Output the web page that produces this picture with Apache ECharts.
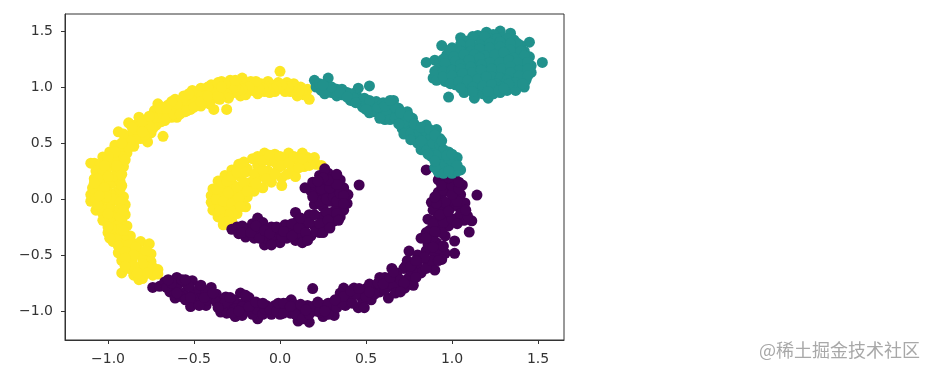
<!DOCTYPE html>
<html>
<head>
<meta charset="utf-8">
<title>scatter</title>
<script src="https://cdn.jsdelivr.net/npm/echarts@6/dist/echarts.min.js"></script>
<style>
html,body{margin:0;padding:0;background:#fff;}
#main{width:935px;height:376px;}
</style>
</head>
<body>
<div id="main"></div>
<script>
// tick labels
const xTicks = [-1.0, -0.5, 0.0, 0.5, 1.0, 1.5];
const yTicks = [-1.0, -0.5, 0.0, 0.5, 1.0, 1.5];

// yellow cluster
const yellowOuter = [
[0.17,0.89],[0.14,0.93],[0.16,0.98],[0.12,1.00],[0.10,0.92],[0.08,1.03],[0.06,0.96],[0.04,1.04],[0.02,0.98],[0.0,1.14],
[-0.01,1.04],[-0.03,0.96],[-0.05,1.02],[-0.07,1.05],[-0.09,0.96],[-0.11,1.03],[-0.13,0.94],[-0.15,1.02],[-0.17,1.05],[-0.19,0.96],
[-0.21,1.01],[-0.23,0.92],[-0.22,1.08],[-0.25,1.03],[-0.27,0.95],[-0.29,1.06],[-0.30,1.00],[-0.31,0.80],[-0.33,0.93],[-0.34,1.05],
[-0.36,0.98],[-0.385,0.80],[-0.38,0.90],[-0.40,1.02],[-0.41,0.85],[-0.43,0.96],[-0.45,0.90],[-0.46,0.99],[-0.48,0.85],[-0.50,0.93],
[-0.52,0.80],[-0.53,0.88],[-0.55,0.78],[-0.56,0.92],[-0.58,0.84],[-0.60,0.73],[-0.61,0.89],[-0.63,0.78],[-0.65,0.84],[-0.67,0.70],
[-0.68,0.56],[-0.69,0.76],[-0.71,0.85],[-0.72,0.66],[-0.73,0.79],[-0.75,0.59],[-0.77,0.51],[-0.77,0.70],[-0.79,0.63],[-0.81,0.54],
[-0.82,0.73],[-0.84,0.66],[-0.85,0.47],[-0.86,0.58],[-0.88,0.68],[-0.90,0.52],[-0.89,0.41],[-0.92,0.44],[-0.94,0.60],[-0.94,0.36],
[-0.96,0.48],[-0.98,0.30],[-0.99,0.42],[-1.03,0.375],[-1.01,0.26],[-1.05,0.22],[-0.95,0.24],[-0.91,0.29],[-1.10,0.32],[-1.08,0.32],
[-1.08,0.18],[-1.03,0.17],[-0.98,0.14],[-0.93,0.16],[-1.10,0.04],[-1.10,-0.02],[-1.06,0.08],[-1.00,0.07],[-0.95,0.06],[-0.91,0.02],
[-0.90,-0.05],[-1.04,-0.02],[-0.98,-0.03],[-1.07,-0.10],[-1.03,-0.13],[-0.96,-0.11],[-0.90,-0.14],[-0.92,-0.20],[-1.01,-0.20],[-0.97,-0.22],
[-0.89,-0.24],[-1.00,-0.30],[-0.95,-0.30],[-0.89,-0.33],[-0.87,-0.33],[-0.97,-0.38],[-0.91,-0.41],[-0.86,-0.39],[-0.81,-0.38],[-0.76,-0.40],
[-0.94,-0.48],[-0.88,-0.47],[-0.82,-0.46],[-0.75,-0.49],[-0.92,-0.55],[-0.86,-0.55],[-0.80,-0.53],[-0.75,-0.56],[-0.92,-0.66],[-0.88,-0.62],
[-0.83,-0.62],[-0.77,-0.61],[-0.71,-0.63],[-0.85,-0.68],[-0.79,-0.67],[-0.74,-0.68],[-0.82,-0.72],
[0.13,0.97],[0.11,0.96],[0.09,0.98],[0.07,1.00],[0.05,1.00],[0.03,0.96],[0.01,1.02],[-0.02,1.00],[-0.04,0.98],[-0.06,0.95],
[-0.08,1.00],[-0.10,0.99],[-0.12,0.98],[-0.14,1.05],[-0.16,0.97],[-0.18,1.00],[-0.20,0.93],[-0.22,0.98],[-0.24,0.97],[-0.26,1.00],
[-0.28,0.99],[-0.31,0.94],[-0.30,0.90],[-0.32,1.03],[-0.35,0.89],[-0.36,1.04],[-0.38,0.95],[-0.40,0.94],[-0.42,1.00],[-0.43,0.88],
[-0.44,0.92],[-0.47,0.92],[-0.46,0.83],[-0.50,0.87],[-0.51,0.97],[-0.54,0.83],[-0.53,0.94],[-0.57,0.88],[-0.57,0.79],[-0.60,0.80],
[-0.60,0.85],[-0.63,0.73],[-0.63,0.87],[-0.66,0.77],[-0.68,0.82],[-0.69,0.69],[-0.71,0.73],[-0.74,0.73],[-0.74,0.63],[-0.76,0.65],
[-0.79,0.57],[-0.80,0.69],[-0.83,0.60],[-0.84,0.53],[-0.87,0.52],[-0.91,0.58],[-0.92,0.38],[-0.88,0.46],[-0.90,0.35],[-0.97,0.36],
[-1.00,0.33],[-1.05,0.30],[-1.07,0.25],[-1.03,0.24],[-0.97,0.20],[-1.00,0.20],[-0.92,0.22],[-1.05,0.14],[-1.09,0.10],[-1.02,0.10],
[-0.93,0.09],[-0.97,0.0],[-1.07,0.0],[-1.01,0.02],[-0.93,-0.03],[-0.93,-0.09],[-1.00,-0.08],[-1.04,-0.07],[-0.98,-0.16],[-1.03,-0.19],
[-0.93,-0.16],[-0.95,-0.24],[-0.93,-0.27],[-0.98,-0.26],[-0.91,-0.35],[-0.95,-0.36],[-0.94,-0.42],[-0.88,-0.41],[-0.84,-0.43],[-0.90,-0.47],
[-0.78,-0.46],[-0.85,-0.50],[-0.90,-0.53],[-0.80,-0.58],[-0.85,-0.60],[-0.90,-0.60],[-0.74,-0.61],[-0.80,-0.71],[-0.83,-0.66],[-0.77,-0.66],
[-0.71,-0.67],
[-0.66,0.72],[-0.62,0.76],[-0.58,0.76],[-0.54,0.79],[-0.50,0.82],[-0.46,0.87],[-0.42,0.92],[-0.36,0.92],[-0.34,1.00],[-0.26,1.06],
[-0.70,0.81],[-0.66,0.81],[-0.76,0.74],[-0.80,0.60],[-0.86,0.64],[-0.92,0.50],[-0.96,0.42],[-1.00,0.38],[-1.02,0.30],[-1.06,0.18],
[-0.95,0.30],[-1.06,-0.05],[-1.05,0.03],[-1.08,0.14],[-0.92,0.12],[-0.91,-0.10],[-1.00,-0.13],[-1.00,-0.25],[-0.91,-0.28],[-0.99,-0.35]
];
const yellowInner = [
[-0.40,0.03],[-0.40,-0.03],[-0.39,0.09],[-0.39,-0.10],[-0.36,0.16],[-0.36,-0.16],[-0.33,-0.23],[-0.35,0.04],[-0.35,-0.06],[-0.33,0.10],
[-0.32,0.21],[-0.32,-0.14],[-0.30,0.0],[-0.30,-0.08],[-0.28,-0.20],[-0.28,0.14],[-0.28,0.26],[-0.27,0.06],[-0.26,-0.03],[-0.25,-0.13],
[-0.24,0.31],[-0.23,0.20],[-0.22,0.09],[-0.21,0.01],[-0.20,-0.07],[-0.19,0.02],[-0.19,0.27],[-0.17,0.15],[-0.16,0.36],[-0.15,0.07],
[-0.13,0.30],[-0.12,0.20],[-0.10,0.10],[-0.09,0.41],[-0.07,0.25],[-0.06,0.34],[-0.05,0.15],[-0.03,0.40],[-0.01,0.28],[0.01,0.19],
[0.01,0.12],[0.03,0.36],[0.05,0.41],[0.07,0.27],[0.09,0.20],[0.10,0.35],[0.13,0.41],[0.14,0.29],[0.17,0.30],[0.20,0.37],
[0.21,0.31],[0.24,0.30],
[-0.37,0.0],[-0.37,0.09],[-0.34,0.15],[-0.33,-0.02],[-0.30,0.06],[-0.31,0.16],[-0.28,-0.04],[-0.27,-0.11],[-0.30,-0.14],[-0.28,0.20],
[-0.25,0.11],[-0.25,0.24],[-0.24,0.01],[-0.23,-0.07],[-0.21,0.15],[-0.21,0.33],[-0.20,0.24],[-0.19,0.07],[-0.15,0.22],[-0.14,0.14],
[-0.13,0.38],[-0.10,0.26],[-0.10,0.34],[-0.08,0.18],[-0.06,0.39],[-0.03,0.22],[-0.03,0.33],[0.0,0.38],[0.01,0.30],[0.04,0.22],
[0.05,0.32],[0.08,0.38],[0.11,0.28],[0.16,0.37],[0.13,0.36],[-0.35,-0.11],[-0.33,-0.18],[-0.31,-0.20]
];

// purple cluster
const purpleInner = [
[-0.28,-0.27],[-0.25,-0.25],[-0.24,-0.31],[-0.20,-0.34],[-0.19,-0.27],[-0.16,-0.22],[-0.15,-0.35],[-0.13,-0.17],[-0.12,-0.28],[-0.10,-0.21],
[-0.09,-0.41],[-0.08,-0.35],[-0.05,-0.25],[-0.04,-0.37],[-0.01,-0.30],[0.0,-0.39],[0.03,-0.23],[0.04,-0.35],[0.06,-0.28],[0.09,-0.37],
[0.09,-0.12],[0.10,-0.20],[0.12,-0.31],[0.13,-0.39],[0.14,-0.24],[0.17,-0.14],[0.18,-0.33],[0.20,-0.05],[0.20,-0.24],[0.23,-0.30],
[0.24,-0.16],[0.25,-0.07],[0.26,-0.25],[0.22,0.03],[0.18,0.07],[0.145,0.10],[0.21,0.12],[0.26,0.05],[0.29,-0.02],[0.30,-0.12],
[0.31,-0.20],[0.33,-0.07],[0.35,-0.16],[0.36,0.0],[0.37,-0.10],[0.39,-0.04],[0.395,0.04],[0.32,0.08],[0.37,0.10],[0.26,0.14],
[0.31,0.17],[0.35,0.17],[0.23,0.21],[0.28,0.23],[0.26,0.27],[0.46,0.125],
[-0.22,-0.24],[-0.22,-0.30],[-0.17,-0.30],[-0.14,-0.24],[-0.12,-0.35],[-0.09,-0.28],[-0.06,-0.31],[-0.05,-0.41],[-0.02,-0.25],[0.01,-0.34],
[0.02,-0.29],[0.07,-0.22],[0.07,-0.33],[0.11,-0.26],[0.15,-0.30],[0.16,-0.37],[0.12,-0.17],[0.17,-0.21],[0.20,-0.14],[0.21,-0.29],
[0.23,-0.22],[0.25,-0.30],[0.27,-0.12],[0.28,-0.19],[0.29,-0.26],[0.23,-0.02],[0.27,0.0],[0.24,0.09],[0.31,0.02],[0.33,-0.02],
[0.35,0.05],[0.33,-0.13],[0.29,0.10],[0.33,0.13],[0.37,0.03],[0.19,0.02],[0.19,0.15],[0.28,0.17],[0.25,0.19],[0.33,0.22],
[0.22,0.16],[0.37,-0.04],[0.34,-0.19]
];
const purpleOuter = [
[-0.74,-0.79],[-0.70,-0.78],[-0.67,-0.74],[-0.64,-0.83],[-0.61,-0.885],[-0.60,-0.70],[-0.60,-0.78],[-0.56,-0.84],[-0.55,-0.75],[-0.52,-0.96],
[-0.51,-0.73],[-0.50,-0.83],[-0.48,-0.90],[-0.45,-0.85],[-0.43,-0.95],[-0.40,-0.79],[-0.40,-0.89],[-0.37,-0.85],[-0.345,-1.01],[-0.34,-0.92],
[-0.315,-0.875],[-0.29,-0.97],[-0.26,-1.05],[-0.25,-0.93],[-0.23,-0.84],[-0.20,-0.91],[-0.19,-1.00],[-0.16,-0.93],[-0.13,-1.07],[-0.12,-0.97],
[-0.08,-0.95],[-0.05,-1.03],[-0.03,-0.95],[0.0,-1.03],[0.03,-0.97],[0.065,-0.90],[0.06,-1.02],[0.105,-1.09],[0.10,-0.97],[0.14,-1.03],
[0.17,-1.10],[0.16,-0.95],[0.19,-0.80],[0.21,-1.00],[0.25,-1.05],[0.25,-0.95],[0.30,-0.97],[0.315,-1.04],[0.34,-0.90],[0.37,-0.795],
[0.38,-0.95],[0.40,-0.87],[0.43,-0.795],[0.455,-0.97],[0.47,-0.87],[0.50,-0.80],[0.53,-0.90],[0.55,-0.78],[0.58,-0.70],[0.58,-0.83],
[0.63,-0.885],[0.63,-0.76],[0.65,-0.62],[0.67,-0.70],[0.70,-0.79],[0.725,-0.795],[0.72,-0.62],[0.75,-0.465],[0.75,-0.70],[0.775,-0.77],
[0.78,-0.58],[0.80,-0.60],[0.82,-0.66],[0.83,-0.53],[0.86,-0.58],[0.90,-0.635],[0.85,-0.46],[0.90,-0.50],[0.96,-0.485],[1.015,-0.485],
[1.015,-0.375],[0.82,-0.35],[0.86,-0.40],[0.91,-0.39],[0.96,-0.33],[0.87,-0.28],[0.92,-0.27],[0.98,-0.24],[0.86,-0.18],[0.91,-0.18],
[0.97,-0.15],[1.03,-0.17],[1.10,-0.295],[1.115,-0.195],[1.07,-0.19],[0.93,-0.08],[0.99,-0.08],[1.04,-0.07],[0.88,-0.03],[0.94,0.0],
[1.00,-0.01],[1.075,-0.035],[1.145,0.035],[1.05,0.04],[0.92,0.06],[0.97,0.07],[1.02,0.09],[1.06,0.125],[0.92,0.17],[0.97,0.15],
[1.02,0.17],[0.85,0.26],[0.95,0.22],[1.00,0.20],
[-0.66,-0.79],[-0.63,-0.75],[-0.57,-0.72],[-0.58,-0.87],[-0.53,-0.78],[-0.55,-0.90],[-0.52,-0.88],[-0.47,-0.80],[-0.47,-0.95],[-0.43,-0.83],
[-0.42,-0.90],[-0.37,-0.92],[-0.35,-0.96],[-0.32,-0.93],[-0.31,-1.02],[-0.27,-0.90],[-0.26,-0.98],[-0.22,-0.96],[-0.22,-1.04],[-0.18,-0.88],
[-0.16,-1.03],[-0.14,-0.98],[-0.10,-1.03],[-0.09,-0.98],[-0.06,-0.98],[-0.02,-1.00],[0.02,-1.02],[0.04,-0.93],[0.08,-0.94],[0.09,-1.03],
[0.12,-0.94],[0.13,-1.07],[0.17,-1.03],[0.19,-0.96],[0.23,-1.01],[0.28,-1.03],[0.28,-0.93],[0.33,-0.97],[0.35,-0.84],[0.36,-0.93],
[0.37,-0.87],[0.42,-0.93],[0.44,-0.85],[0.48,-0.93],[0.50,-0.87],[0.52,-0.76],[0.55,-0.85],[0.57,-0.75],[0.61,-0.70],[0.61,-0.81],
[0.66,-0.78],[0.68,-0.66],[0.67,-0.84],[0.70,-0.72],[0.73,-0.60],[0.74,-0.55],[0.72,-0.75],[0.77,-0.65],[0.80,-0.50],[0.85,-0.62],
[0.88,-0.55],[0.92,-0.44],[0.94,-0.54],[0.85,-0.30],[0.89,-0.34],[0.94,-0.30],[0.95,-0.42],[0.89,-0.22],[0.95,-0.21],[1.00,-0.18],
[1.05,-0.13],[0.89,-0.10],[0.96,-0.03],[0.91,-0.04],[1.03,-0.02],[0.95,0.08],[1.00,0.04],[0.94,0.12],[1.00,0.12],[1.04,0.09],
[0.98,0.19],[1.09,-0.15],
[-0.65,-0.72],[-0.60,-0.84],[-0.55,-0.72],[-0.46,-0.77],[-0.44,-0.88],[-0.39,-0.84],[-0.36,-0.97],[-0.29,-0.88],[-0.28,-1.02],[-0.24,-1.00],
[-0.20,-0.86],[-0.18,-0.96],[-0.14,-0.92],[-0.10,-0.93],[-0.01,-0.93],[0.02,-0.93],[0.06,-0.96],[0.15,-0.99],[0.22,-0.92],[0.26,-1.00],
[0.32,-0.90],[0.41,-0.82],[0.46,-0.80],[0.49,-0.97],[0.52,-0.83],[0.60,-0.76],[0.64,-0.70],[0.66,-0.65],[0.70,-0.83],[0.76,-0.60],
[0.79,-0.70],[0.84,-0.52],[0.79,-0.55],[0.89,-0.43],[0.92,-0.55],[0.85,-0.35],[0.90,-0.29],[0.93,-0.14],[1.03,-0.22],[0.98,-0.11],
[1.08,-0.10],[0.90,0.02],[1.04,0.15],[0.93,0.21]
];

// teal cluster
const tealArc = [
[0.20,1.06],[0.28,1.08],[0.21,1.00],[0.24,0.97],[0.27,1.00],[0.30,0.95],[0.33,0.98],[0.36,0.93],[0.39,0.95],[0.41,0.88],
[0.44,0.95],[0.455,0.99],[0.52,1.01],[0.46,0.90],[0.50,0.85],[0.52,0.77],[0.54,0.83],[0.56,0.87],[0.59,0.80],[0.61,0.71],
[0.63,0.85],[0.66,0.88],[0.65,0.76],[0.69,0.81],[0.71,0.63],[0.70,0.71],[0.74,0.78],[0.75,0.66],[0.78,0.53],[0.79,0.62],
[0.82,0.44],[0.83,0.55],[0.85,0.66],[0.87,0.50],[0.91,0.62],[0.93,0.54],[0.88,0.38],[0.90,0.45],[0.92,0.32],[0.92,0.24],
[0.95,0.36],[0.98,0.42],[1.00,0.23],[0.98,0.30],[1.03,0.37],[1.05,0.26],[1.02,0.31],[0.95,0.27],
[0.23,1.03],[0.26,0.94],[0.30,1.00],[0.33,0.92],[0.36,0.98],[0.41,0.94],[0.43,0.90],[0.47,0.85],[0.49,0.90],[0.48,0.82],
[0.54,0.78],[0.57,0.77],[0.57,0.82],[0.60,0.86],[0.62,0.78],[0.64,0.71],[0.67,0.72],[0.67,0.82],[0.72,0.75],[0.73,0.69],
[0.77,0.72],[0.72,0.58],[0.76,0.59],[0.81,0.60],[0.80,0.50],[0.85,0.60],[0.88,0.56],[0.84,0.49],[0.85,0.43],[0.89,0.50],
[0.93,0.48],[0.95,0.44],[0.91,0.39],[0.95,0.31],[0.98,0.36],[0.95,0.23],[1.03,0.25],[1.00,0.34],[0.90,0.28],
[0.25,1.02],[0.35,0.95],[0.39,0.91],[0.44,0.86],[0.52,0.88],[0.50,0.80],[0.58,0.72],[0.61,0.83],[0.64,0.88],[0.69,0.67],
[0.70,0.77],[0.75,0.74],[0.78,0.67],[0.82,0.64],[0.76,0.53],[0.82,0.52],[0.87,0.62],[0.90,0.57],[0.94,0.52],[0.86,0.40],
[0.90,0.34],[0.97,0.39],[1.00,0.40],[1.03,0.30],[0.98,0.25]
];
const tealBlob = [
[0.85,1.22],[1.525,1.22],[0.98,0.91],[1.07,0.95],[1.13,0.90],[1.21,0.90],[1.28,0.95],[1.42,1.00],[1.45,1.40],[1.34,1.48],
[1.28,1.50],[1.20,1.49],[1.05,1.44],[0.94,1.37],[0.89,1.08],[0.90,1.24],[1.15,1.46],[1.24,1.47],[1.09,1.41],[1.17,1.41],
[1.22,1.43],[1.29,1.44],[1.36,1.42],[1.40,1.37],[0.97,1.29],[1.02,1.31],[1.08,1.34],[1.13,1.35],[1.19,1.36],[1.25,1.38],
[1.31,1.37],[1.36,1.35],[1.42,1.32],[1.45,1.27],[0.93,1.22],[0.99,1.24],[1.05,1.26],[1.10,1.28],[1.16,1.30],[1.22,1.31],
[1.27,1.32],[1.33,1.30],[1.38,1.28],[1.41,1.24],[0.92,1.16],[0.97,1.18],[1.02,1.19],[1.08,1.21],[1.13,1.23],[1.19,1.24],
[1.24,1.26],[1.30,1.25],[1.35,1.22],[1.40,1.19],[1.46,1.19],[0.93,1.10],[0.98,1.12],[1.03,1.13],[1.09,1.15],[1.14,1.17],
[1.20,1.18],[1.26,1.19],[1.31,1.18],[1.36,1.15],[1.41,1.13],[1.46,1.13],[0.96,1.05],[1.01,1.07],[1.06,1.08],[1.11,1.10],
[1.17,1.11],[1.23,1.12],[1.28,1.12],[1.33,1.09],[1.38,1.07],[1.43,1.06],[1.02,1.02],[1.07,1.03],[1.12,1.04],[1.18,1.05],
[1.24,1.06],[1.30,1.04],[1.35,1.01],[1.39,1.02],[1.09,0.98],[1.15,0.98],[1.21,1.00],[1.26,1.00],[1.32,0.97],[1.18,0.94],
[1.24,0.94],[1.37,0.97],
[1.12,1.45],[1.19,1.45],[1.26,1.43],[1.32,1.43],[1.38,1.39],[1.05,1.38],[1.11,1.38],[1.16,1.38],[1.22,1.39],[1.28,1.40],
[1.34,1.39],[1.00,1.35],[0.99,1.33],[1.05,1.32],[1.11,1.32],[1.16,1.34],[1.22,1.35],[1.28,1.36],[1.34,1.33],[1.40,1.32],
[0.95,1.25],[1.01,1.27],[1.07,1.29],[1.13,1.29],[1.19,1.28],[1.25,1.29],[1.30,1.31],[1.36,1.26],[1.42,1.28],[0.96,1.21],
[1.02,1.23],[1.05,1.20],[1.10,1.24],[1.16,1.26],[1.22,1.22],[1.28,1.22],[1.33,1.24],[1.38,1.22],[1.44,1.22],[0.90,1.14],
[0.95,1.14],[1.00,1.15],[1.05,1.16],[1.11,1.18],[1.17,1.20],[1.23,1.16],[1.29,1.16],[1.34,1.18],[1.39,1.15],[1.44,1.16],
[0.91,1.06],[0.95,1.09],[1.00,1.10],[1.06,1.12],[1.12,1.13],[1.17,1.15],[1.23,1.09],[1.28,1.08],[1.34,1.13],[1.39,1.10],
[1.44,1.10],[0.99,1.03],[1.04,1.05],[1.09,1.06],[1.15,1.07],[1.20,1.09],[1.26,1.03],[1.32,1.06],[1.37,1.04],[1.41,1.03],
[1.05,0.99],[1.12,1.00],[1.18,1.01],[1.23,1.02],[1.29,1.00],[1.33,1.03],[1.12,0.96],[1.21,0.96],[1.27,0.97],[1.30,0.99]
];

const myChart = echarts.init(document.getElementById("main"));

const axisColor = "#333";

let option = {
  backgroundColor: "#fff",
  animation: false,
  title: {
    text: "@稀土掘金技术社区",
    left: 759,
    top: 341,
    padding: 0,
    textStyle: {
      color: "#a8a8a8",
      fontSize: 18,
      fontWeight: "normal",
      fontFamily: "Noto Sans CJK SC",
    },
  },
  grid: { show: true, borderColor: axisColor, borderWidth: 1, left: 65, top: 14, width: 499, height: 326 },
  xAxis: {
    type: "value",
    min: -1.25,
    max: 1.651,
    splitLine: { show: false },
    axisLine: { onZero: false, lineStyle: { color: axisColor, width: 1 } },
    axisTick: { customValues: xTicks, length: 4, lineStyle: { color: axisColor } },
    axisLabel: {
      customValues: xTicks,
      color: axisColor,
      fontSize: 14,
      margin: 12,
      fontFamily: "DejaVu Sans",
      formatter: (v) => v.toFixed(1).replace("-", "−"),
    },
  },
  yAxis: {
    type: "value",
    min: -1.259,
    max: 1.652,
    splitLine: { show: false },
    axisLine: { onZero: false, lineStyle: { color: axisColor, width: 1 } },
    axisTick: { customValues: yTicks, length: 4, lineStyle: { color: axisColor } },
    axisLabel: {
      customValues: yTicks,
      color: axisColor,
      fontSize: 14,
      margin: 12,
      fontFamily: "DejaVu Sans",
      formatter: (v) => v.toFixed(1).replace("-", "−"),
    },
  },
  series: [
    {
      type: "scatter",
      symbolSize: 11,
      itemStyle: { color: "#fde725", opacity: 1 },
      data: yellowOuter.concat(yellowInner),
    },
    {
      type: "scatter",
      symbolSize: 11,
      itemStyle: { color: "#440154", opacity: 1 },
      data: purpleOuter.concat(purpleInner),
    },
    {
      type: "scatter",
      symbolSize: 11,
      itemStyle: { color: "#21918c", opacity: 1 },
      data: tealArc.concat(tealBlob),
    },
  ],
};

myChart.setOption(option);
</script>
</body>
</html>
